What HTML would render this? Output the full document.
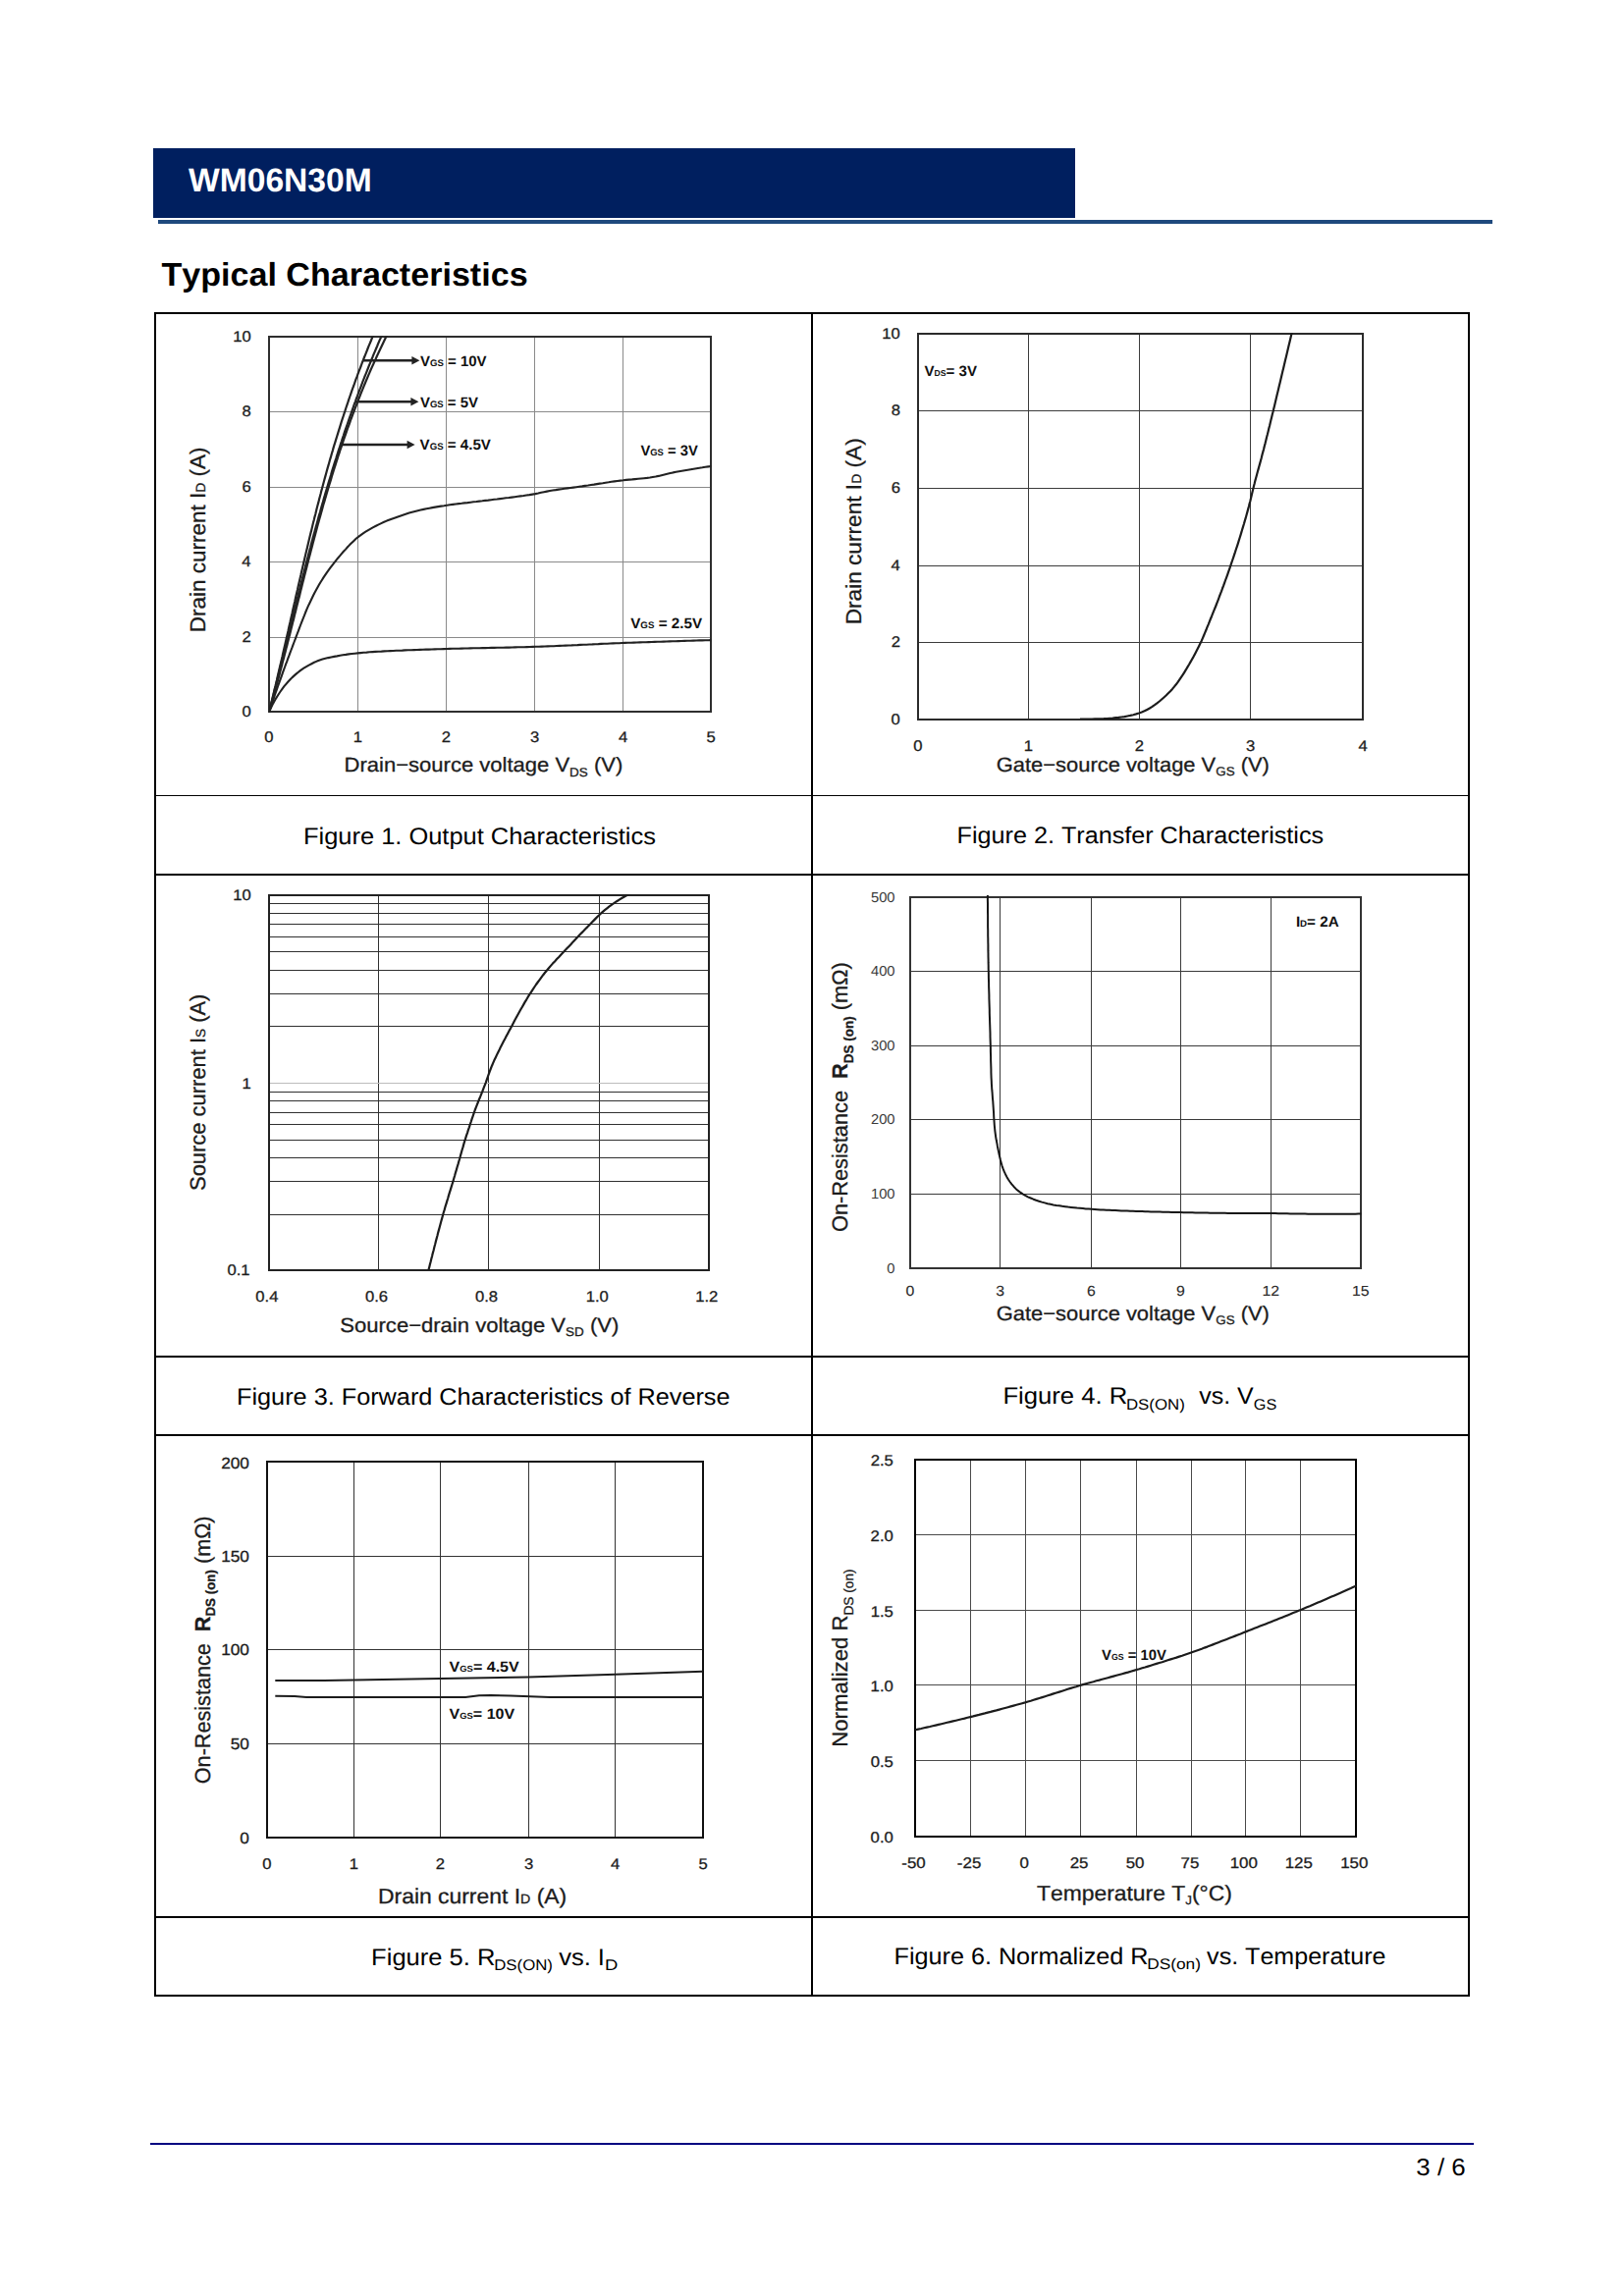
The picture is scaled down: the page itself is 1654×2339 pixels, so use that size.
<!DOCTYPE html>
<html lang="en"><head><meta charset="utf-8"><title>WM06N30M Typical Characteristics</title>
<style>html,body{margin:0;padding:0;background:#fff}svg{display:block}</style></head>
<body>
<svg width="1654" height="2339" viewBox="0 0 1654 2339" font-family='"Liberation Sans", sans-serif' style="font-kerning:none" text-rendering="geometricPrecision">
<rect width="1654" height="2339" fill="#fff"/>
<rect x="156" y="151" width="939" height="71" fill="#001f5f"/>
<rect x="161" y="224" width="1359" height="4" fill="#1f497d"/>
<text transform="translate(191.97 194.80) scale(0.9945 1)" fill="#fff"><tspan font-size="33.80" font-weight="700">WM06N30M</tspan></text>
<text transform="translate(164.42 290.50) scale(1.0235 1)" fill="#000"><tspan font-size="33.30" font-weight="700">Typical Characteristics</tspan></text>
<g fill="#000">
<rect x="157" y="318" width="1340" height="2"/>
<rect x="157" y="810" width="1340" height="1"/>
<rect x="157" y="890" width="1340" height="2"/>
<rect x="157" y="1381" width="1340" height="2"/>
<rect x="157" y="1461" width="1340" height="2"/>
<rect x="157" y="1952" width="1340" height="2"/>
<rect x="157" y="2032" width="1340" height="2"/>
<rect x="157" y="318" width="2" height="1716"/>
<rect x="826" y="318" width="2" height="1716"/>
<rect x="1495" y="318" width="2" height="1716"/>
</g>
<rect x="153" y="2183" width="1348" height="2" fill="#000080"/>
<text transform="translate(1442.31 2215.60) scale(1.0578 1)" fill="#000"><tspan font-size="24.50">3 / 6</tspan></text>
<text transform="translate(309.01 859.70) scale(1.0593 1)" fill="#000"><tspan font-size="24.00">Figure 1. Output Characteristics</tspan></text>
<text transform="translate(974.53 859.40) scale(1.0490 1)" fill="#000"><tspan font-size="24.00">Figure 2. Transfer Characteristics</tspan></text>
<text transform="translate(241.03 1430.80) scale(1.0524 1)" fill="#000"><tspan font-size="24.00">Figure 3. Forward Characteristics of Reverse</tspan></text>
<text transform="translate(1021.40 1430.30) scale(1.0681 1)" fill="#000"><tspan font-size="24.00">Figure 4. R</tspan></text>
<text transform="translate(1146.92 1435.50) scale(1.0856 1)" fill="#000"><tspan font-size="15.50">DS(ON)</tspan></text>
<text transform="translate(1221.31 1430.30) scale(1.0384 1)" fill="#000"><tspan font-size="24.00">vs. V</tspan></text>
<text transform="translate(1276.78 1435.50) scale(1.0477 1)" fill="#000"><tspan font-size="15.50">GS</tspan></text>
<text transform="translate(378.11 2001.50) scale(1.0637 1)" fill="#000"><tspan font-size="24.00">Figure 5. R</tspan></text>
<text transform="translate(503.22 2006.70) scale(1.0837 1)" fill="#000"><tspan font-size="15.50">DS(ON)</tspan></text>
<text transform="translate(569.21 2001.50) scale(1.0622 1)" fill="#000"><tspan font-size="24.00">vs. I</tspan></text>
<text transform="translate(616.09 2006.70) scale(1.1873 1)" fill="#000"><tspan font-size="15.50">D</tspan></text>
<text transform="translate(910.53 2001.20) scale(1.0494 1)" fill="#000"><tspan font-size="24.00">Figure 6. Normalized R</tspan></text>
<text transform="translate(1168.18 2006.40) scale(1.1160 1)" fill="#000"><tspan font-size="15.50">DS(on)</tspan></text>
<text transform="translate(1229.11 2001.20) scale(1.0439 1)" fill="#000"><tspan font-size="24.00">vs. Temperature</tspan></text>
<clipPath id="c1"><rect x="274.0" y="342.0" width="451.0" height="384.0"/></clipPath>
<g shape-rendering="crispEdges">
<rect x="364" y="343" width="1" height="382" fill="#8a8a8a"/>
<rect x="454" y="343" width="1" height="382" fill="#8a8a8a"/>
<rect x="544" y="343" width="1" height="382" fill="#8a8a8a"/>
<rect x="634" y="343" width="1" height="382" fill="#8a8a8a"/>
<rect x="274" y="419" width="450" height="1" fill="#8a8a8a"/>
<rect x="274" y="496" width="450" height="1" fill="#8a8a8a"/>
<rect x="274" y="572" width="450" height="1" fill="#8a8a8a"/>
<rect x="274" y="649" width="450" height="1" fill="#8a8a8a"/>
<rect x="274" y="343" width="450" height="382" fill="none" stroke="#2e2e2e" stroke-width="2"/>
</g>
<path d="M274.1 725.2L274.8 722.2L275.6 719.3L276.3 716.3L277.0 713.4L277.7 710.4L278.4 707.5L279.1 704.5L279.8 701.5L280.6 698.6L281.3 695.6L282.0 692.7L282.6 689.7L283.3 686.7L284.0 683.8L284.7 680.8L285.4 677.8L286.1 674.9L286.8 671.9L287.5 668.9L288.1 666.0L288.8 663.0L289.5 660.0L290.2 657.1L290.9 654.1L291.5 651.1L292.2 648.2L292.9 645.2L293.6 642.2L294.2 639.3L294.9 636.3L295.6 633.3L296.2 630.4L296.9 627.4L297.6 624.4L298.2 621.4L298.9 618.5L299.6 615.5L300.3 612.5L300.9 609.6L301.6 606.6L302.3 603.6L303.0 600.7L303.6 597.7L304.3 594.7L305.0 591.8L305.7 588.8L306.4 585.8L307.0 582.9L307.7 579.9L308.4 576.9L309.1 574.0L309.8 571.0L310.5 568.0L311.2 565.1L311.9 562.1L312.6 559.2L313.3 556.2L314.0 553.2L314.7 550.3L315.4 547.3L316.1 544.4L316.9 541.4L317.6 538.4L318.3 535.5L319.0 532.5L319.8 529.6L320.5 526.6L321.3 523.7L322.0 520.7L322.7 517.8L323.5 514.8L324.3 511.9L325.0 508.9L325.8 506.0L326.6 503.0L327.3 500.1L328.1 497.2L328.9 494.2L329.7 491.3L330.5 488.3L331.3 485.4L332.1 482.5L332.9 479.5L333.7 476.6L334.6 473.7L335.4 470.7L336.2 467.8L337.1 464.9L337.9 462.0L338.8 459.1L339.6 456.1L340.5 453.2L341.4 450.3L342.3 447.4L343.2 444.5L344.1 441.6L345.0 438.7L345.9 435.8L346.8 432.9L347.7 429.9L348.6 427.1L349.6 424.2L350.5 421.3L351.5 418.4L352.4 415.5L353.4 412.6L354.4 409.7L355.3 406.8L356.3 404.0L357.3 401.1L358.3 398.2L359.3 395.3L360.4 392.5L361.4 389.6L362.4 386.7L363.5 383.9L364.5 381.0L365.6 378.2L366.7 375.3L367.8 372.5L368.8 369.6L369.9 366.8L371.0 364.0L372.2 361.1L373.3 358.3L374.4 355.5L375.5 352.7L376.7 349.8L377.9 347.0L379.0 344.2L380.2 341.4L381.4 338.6L382.6 335.8L383.8 333.0" fill="none" stroke="#242424" stroke-width="2.20" stroke-linejoin="round" clip-path="url(#c1)"/>
<path d="M274.1 725.2L274.8 722.3L275.6 719.3L276.3 716.4L277.1 713.4L277.8 710.5L278.6 707.5L279.3 704.6L280.0 701.6L280.8 698.7L281.5 695.7L282.2 692.8L283.0 689.8L283.7 686.9L284.4 683.9L285.2 681.0L285.9 678.0L286.6 675.1L287.3 672.1L288.1 669.2L288.8 666.2L289.5 663.3L290.2 660.3L291.0 657.4L291.7 654.4L292.4 651.5L293.1 648.5L293.9 645.6L294.6 642.6L295.3 639.6L296.1 636.7L296.8 633.7L297.5 630.8L298.2 627.8L299.0 624.9L299.7 621.9L300.4 619.0L301.2 616.0L301.9 613.1L302.6 610.1L303.4 607.2L304.1 604.3L304.9 601.3L305.6 598.4L306.4 595.4L307.1 592.5L307.9 589.5L308.6 586.6L309.4 583.6L310.1 580.7L310.9 577.7L311.6 574.8L312.4 571.9L313.2 568.9L313.9 566.0L314.7 563.0L315.5 560.1L316.3 557.2L317.0 554.2L317.8 551.3L318.6 548.3L319.4 545.4L320.2 542.5L321.0 539.5L321.8 536.6L322.6 533.7L323.4 530.8L324.2 527.8L325.0 524.9L325.9 522.0L326.7 519.0L327.5 516.1L328.4 513.2L329.2 510.3L330.0 507.4L330.9 504.4L331.7 501.5L332.6 498.6L333.5 495.7L334.3 492.8L335.2 489.9L336.1 487.0L337.0 484.0L337.8 481.1L338.7 478.2L339.6 475.3L340.5 472.4L341.4 469.5L342.4 466.6L343.3 463.7L344.2 460.8L345.1 457.9L346.1 455.0L347.0 452.2L348.0 449.3L348.9 446.4L349.9 443.5L350.8 440.6L351.8 437.7L352.8 434.9L353.8 432.0L354.8 429.1L355.8 426.2L356.8 423.4L357.8 420.5L358.8 417.6L359.8 414.8L360.8 411.9L361.9 409.1L362.9 406.2L364.0 403.4L365.0 400.5L366.1 397.7L367.2 394.8L368.3 392.0L369.3 389.1L370.4 386.3L371.5 383.5L372.7 380.6L373.8 377.8L374.9 375.0L376.0 372.2L377.2 369.3L378.3 366.5L379.5 363.7L380.6 360.9L381.8 358.1L383.0 355.3L384.2 352.5L385.3 349.7L386.5 346.9L387.8 344.1L389.0 341.3L390.2 338.6L391.4 335.8L392.7 333.0" fill="none" stroke="#242424" stroke-width="2.20" stroke-linejoin="round" clip-path="url(#c1)"/>
<path d="M274.1 725.2L274.9 722.3L275.8 719.4L276.6 716.4L277.4 713.5L278.2 710.6L279.0 707.7L279.8 704.8L280.6 701.8L281.4 698.9L282.2 696.0L283.0 693.1L283.8 690.1L284.6 687.2L285.3 684.3L286.1 681.3L286.9 678.4L287.6 675.5L288.4 672.5L289.2 669.6L289.9 666.7L290.7 663.7L291.4 660.8L292.2 657.9L292.9 654.9L293.7 652.0L294.4 649.0L295.2 646.1L295.9 643.2L296.6 640.2L297.4 637.3L298.1 634.3L298.9 631.4L299.6 628.5L300.3 625.5L301.1 622.6L301.8 619.6L302.5 616.7L303.3 613.8L304.0 610.8L304.8 607.9L305.5 604.9L306.2 602.0L307.0 599.0L307.7 596.1L308.4 593.2L309.2 590.2L309.9 587.3L310.7 584.3L311.4 581.4L312.2 578.5L312.9 575.5L313.7 572.6L314.4 569.7L315.2 566.7L316.0 563.8L316.7 560.9L317.5 557.9L318.3 555.0L319.0 552.1L319.8 549.1L320.6 546.2L321.4 543.3L322.2 540.3L322.9 537.4L323.7 534.5L324.5 531.6L325.3 528.6L326.2 525.7L327.0 522.8L327.8 519.9L328.6 517.0L329.4 514.0L330.3 511.1L331.1 508.2L332.0 505.3L332.8 502.4L333.7 499.5L334.5 496.6L335.4 493.7L336.3 490.8L337.2 487.9L338.0 485.0L338.9 482.1L339.8 479.2L340.7 476.3L341.7 473.4L342.6 470.5L343.5 467.6L344.4 464.7L345.4 461.9L346.3 459.0L347.3 456.1L348.3 453.2L349.2 450.4L350.2 447.5L351.2 444.6L352.2 441.8L353.2 438.9L354.2 436.0L355.3 433.2L356.3 430.3L357.3 427.5L358.4 424.6L359.4 421.8L360.5 419.0L361.6 416.1L362.7 413.3L363.8 410.5L364.9 407.7L366.0 404.8L367.1 402.0L368.2 399.2L369.4 396.4L370.5 393.6L371.7 390.8L372.8 388.0L374.0 385.2L375.2 382.4L376.4 379.6L377.6 376.8L378.8 374.1L380.1 371.3L381.3 368.5L382.6 365.8L383.8 363.0L385.1 360.3L386.4 357.5L387.7 354.8L389.0 352.0L390.3 349.3L391.6 346.6L392.9 343.8L394.3 341.1L395.6 338.4L397.0 335.7L398.4 333.0" fill="none" stroke="#242424" stroke-width="2.20" stroke-linejoin="round" clip-path="url(#c1)"/>
<path d="M274.1 725.2L275.1 722.3L276.0 719.5L277.0 716.6L278.0 713.7L279.0 710.9L279.9 708.0L280.9 705.2L281.9 702.3L282.9 699.5L283.9 696.6L284.9 693.8L286.0 690.9L287.0 688.1L288.0 685.2L289.0 682.4L290.1 679.5L291.1 676.7L292.2 673.9L293.2 671.0L294.3 668.2L295.3 665.4L296.4 662.5L297.5 659.7L298.5 656.9L299.6 654.0L300.7 651.2L301.7 648.4L302.8 645.5L303.9 642.7L304.9 639.9L306.0 637.0L307.1 634.2L308.2 631.4L309.3 628.6L310.4 625.8L311.5 623.0L312.7 620.2L313.9 617.4L315.2 614.7L316.5 612.0L317.8 609.2L319.1 606.5L320.5 603.8L322.0 601.1L323.4 598.5L324.9 595.8L326.4 593.2L328.0 590.7L329.6 588.1L331.3 585.6L333.0 583.1L334.8 580.7L336.6 578.2L338.4 575.8L340.3 573.4L342.1 571.1L344.0 568.7L346.0 566.4L347.9 564.1L349.9 561.8L352.0 559.6L354.0 557.3L356.1 555.1L358.2 553.0L360.4 550.9L362.6 548.8L365.0 546.9L367.4 545.1L369.8 543.4L372.4 541.7L375.0 540.1L377.6 538.6L380.2 537.1L382.9 535.7L385.6 534.4L388.3 533.1L391.1 531.8L393.9 530.6L396.7 529.5L399.5 528.4L402.4 527.4L405.2 526.4L408.1 525.4L410.9 524.4L413.8 523.5L416.7 522.6L419.6 521.8L422.6 521.0L425.5 520.2L428.4 519.5L431.4 518.9L434.3 518.3L437.3 517.7L440.3 517.1L443.2 516.6L446.2 516.1L449.2 515.6L452.2 515.2L455.2 514.7L458.2 514.3L461.2 513.9L464.2 513.5L467.2 513.1L470.2 512.8L473.2 512.4L476.2 512.1L479.2 511.7L482.2 511.3L485.2 511.0L488.2 510.6L491.2 510.3L494.2 509.9L497.2 509.6L500.2 509.2L503.2 508.8L506.2 508.5L509.2 508.1L512.2 507.7L515.2 507.3L518.2 507.0L521.2 506.6L524.2 506.2L527.2 505.8L530.2 505.4L533.2 505.0L536.2 504.5L539.2 504.1L542.2 503.6L545.2 503.1L548.1 502.5L551.1 501.8L554.0 501.2L557.0 500.6L560.0 500.0L563.0 499.5L565.9 499.1L568.9 498.6L571.9 498.2L574.9 497.8L577.9 497.4L580.9 497.0L583.9 496.6L586.9 496.2L589.9 495.8L592.9 495.4L595.9 494.9L598.9 494.5L601.9 494.0L604.9 493.6L607.9 493.1L610.8 492.6L613.8 492.2L616.8 491.7L619.8 491.3L622.8 490.8L625.8 490.4L628.8 490.0L631.8 489.6L634.8 489.3L637.8 488.9L640.8 488.6L643.8 488.4L646.8 488.1L649.9 487.8L652.9 487.5L655.9 487.2L658.9 486.9L661.9 486.5L664.8 486.0L667.8 485.5L670.8 484.9L673.7 484.2L676.7 483.5L679.6 482.8L682.6 482.1L685.5 481.4L688.5 480.8L691.5 480.2L694.4 479.7L697.4 479.2L700.4 478.7L703.4 478.2L706.3 477.7L709.3 477.2L712.3 476.7L715.3 476.3L718.3 475.8L721.3 475.4L724.3 475.0" fill="none" stroke="#222" stroke-width="2.10" stroke-linejoin="round" clip-path="url(#c1)"/>
<path d="M274.1 725.2L275.4 722.4L276.7 719.6L278.0 716.9L279.5 714.2L281.0 711.6L282.6 709.0L284.2 706.5L285.9 704.0L287.6 701.6L289.4 699.2L291.4 696.8L293.4 694.5L295.5 692.3L297.6 690.1L299.8 688.1L302.1 686.1L304.5 684.2L306.9 682.4L309.4 680.7L312.0 679.1L314.6 677.6L317.3 676.2L320.0 674.8L322.8 673.6L325.6 672.5L328.5 671.6L331.4 670.8L334.3 670.1L337.3 669.5L340.3 668.9L343.3 668.4L346.3 667.8L349.2 667.3L352.2 666.9L355.2 666.4L358.2 666.0L361.3 665.7L364.3 665.4L367.3 665.1L370.3 664.8L373.3 664.6L376.3 664.3L379.3 664.1L382.4 663.9L385.4 663.7L388.4 663.6L391.4 663.4L394.5 663.3L397.5 663.1L400.5 663.0L403.5 662.8L406.6 662.7L409.6 662.6L412.6 662.4L415.6 662.3L418.7 662.2L421.7 662.1L424.7 662.0L427.7 661.9L430.8 661.8L433.8 661.6L436.8 661.6L439.8 661.5L442.9 661.4L445.9 661.3L448.9 661.2L452.0 661.1L455.0 661.0L458.0 660.9L461.0 660.8L464.1 660.7L467.1 660.7L470.1 660.6L473.1 660.5L476.2 660.5L479.2 660.4L482.2 660.3L485.2 660.3L488.3 660.2L491.3 660.1L494.3 660.1L497.4 660.0L500.4 659.9L503.4 659.9L506.4 659.8L509.5 659.8L512.5 659.7L515.5 659.6L518.5 659.6L521.6 659.5L524.6 659.4L527.6 659.3L530.7 659.3L533.7 659.2L536.7 659.1L539.7 659.0L542.8 658.9L545.8 658.8L548.8 658.7L551.8 658.6L554.9 658.5L557.9 658.4L560.9 658.3L563.9 658.2L567.0 658.0L570.0 657.9L573.0 657.8L576.0 657.6L579.1 657.5L582.1 657.4L585.1 657.2L588.1 657.1L591.2 656.9L594.2 656.8L597.2 656.7L600.2 656.5L603.3 656.4L606.3 656.2L609.3 656.1L612.3 655.9L615.4 655.8L618.4 655.7L621.4 655.5L624.4 655.4L627.5 655.3L630.5 655.2L633.5 655.0L636.5 654.9L639.6 654.8L642.6 654.7L645.6 654.6L648.6 654.5L651.7 654.4L654.7 654.3L657.7 654.2L660.7 654.1L663.8 654.0L666.8 653.9L669.8 653.8L672.9 653.7L675.9 653.6L678.9 653.5L681.9 653.4L685.0 653.3L688.0 653.2L691.0 653.1L694.0 653.0L697.1 652.9L700.1 652.8L703.1 652.7L706.1 652.6L709.2 652.5L712.2 652.4L715.2 652.4L718.2 652.3L721.3 652.2L724.3 652.1" fill="none" stroke="#222" stroke-width="2.10" stroke-linejoin="round" clip-path="url(#c1)"/>
<path d="M370.10 367.30H420.40" stroke="#222" stroke-width="2.60" fill="none"/>
<path d="M427.40 367.30L419.40 363.10L419.40 371.50Z" fill="#222"/>
<path d="M362.00 409.20H419.40" stroke="#222" stroke-width="2.60" fill="none"/>
<path d="M426.40 409.20L418.40 405.00L418.40 413.40Z" fill="#222"/>
<path d="M347.80 453.00H415.60" stroke="#222" stroke-width="2.60" fill="none"/>
<path d="M422.60 453.00L414.60 448.80L414.60 457.20Z" fill="#222"/>
<text transform="translate(428.00 373.40) scale(0.9992 1)" fill="#111"><tspan font-size="15.00" font-weight="700">V</tspan><tspan font-size="9.60" font-weight="700">GS</tspan><tspan font-size="15.00" font-weight="700"> = 10V</tspan></text>
<text transform="translate(427.90 415.10) scale(0.9964 1)" fill="#111"><tspan font-size="15.00" font-weight="700">V</tspan><tspan font-size="9.60" font-weight="700">GS</tspan><tspan font-size="15.00" font-weight="700"> = 5V</tspan></text>
<text transform="translate(427.60 458.00) scale(1.0067 1)" fill="#111"><tspan font-size="15.00" font-weight="700">V</tspan><tspan font-size="9.60" font-weight="700">GS</tspan><tspan font-size="15.00" font-weight="700"> = 4.5V</tspan></text>
<text transform="translate(652.40 463.90) scale(0.9829 1)" fill="#111"><tspan font-size="15.00" font-weight="700">V</tspan><tspan font-size="9.60" font-weight="700">GS</tspan><tspan font-size="15.00" font-weight="700"> = 3V</tspan></text>
<text transform="translate(642.20 640.00) scale(1.0137 1)" fill="#111"><tspan font-size="15.00" font-weight="700">V</tspan><tspan font-size="9.60" font-weight="700">GS</tspan><tspan font-size="15.00" font-weight="700"> = 2.5V</tspan></text>
<text transform="translate(237.14 347.81) scale(1.0803 1)" fill="#1c1c1c" stroke="#1c1c1c" stroke-width="0.30"><tspan font-size="15.40">10</tspan></text>
<text transform="translate(246.47 424.31) scale(1.0803 1)" fill="#1c1c1c" stroke="#1c1c1c" stroke-width="0.30"><tspan font-size="15.40">8</tspan></text>
<text transform="translate(246.48 501.31) scale(1.0803 1)" fill="#1c1c1c" stroke="#1c1c1c" stroke-width="0.30"><tspan font-size="15.40">6</tspan></text>
<text transform="translate(246.23 577.31) scale(1.0803 1)" fill="#1c1c1c" stroke="#1c1c1c" stroke-width="0.30"><tspan font-size="15.40">4</tspan></text>
<text transform="translate(246.58 654.31) scale(1.0803 1)" fill="#1c1c1c" stroke="#1c1c1c" stroke-width="0.30"><tspan font-size="15.40">2</tspan></text>
<text transform="translate(246.40 729.81) scale(1.0803 1)" fill="#1c1c1c" stroke="#1c1c1c" stroke-width="0.30"><tspan font-size="15.40">0</tspan></text>
<text transform="translate(269.37 755.60) scale(1.0803 1)" fill="#1c1c1c" stroke="#1c1c1c" stroke-width="0.30"><tspan font-size="15.40">0</tspan></text>
<text transform="translate(359.65 755.60) scale(1.0803 1)" fill="#1c1c1c" stroke="#1c1c1c" stroke-width="0.30"><tspan font-size="15.40">1</tspan></text>
<text transform="translate(449.87 755.60) scale(1.0803 1)" fill="#1c1c1c" stroke="#1c1c1c" stroke-width="0.30"><tspan font-size="15.40">2</tspan></text>
<text transform="translate(539.92 755.60) scale(1.0803 1)" fill="#1c1c1c" stroke="#1c1c1c" stroke-width="0.30"><tspan font-size="15.40">3</tspan></text>
<text transform="translate(629.93 755.60) scale(1.0803 1)" fill="#1c1c1c" stroke="#1c1c1c" stroke-width="0.30"><tspan font-size="15.40">4</tspan></text>
<text transform="translate(719.39 755.60) scale(1.0803 1)" fill="#1c1c1c" stroke="#1c1c1c" stroke-width="0.30"><tspan font-size="15.40">5</tspan></text>
<text transform="translate(350.59 786.40) scale(1.0693 1)" fill="#1c1c1c" stroke="#1c1c1c" stroke-width="0.30"><tspan font-size="20.60">Drain−source voltage V</tspan><tspan font-size="12.60" dy="4.20">DS</tspan><tspan font-size="20.60" dy="-4.20"> (V)</tspan></text>
<text transform="translate(208.60 644.25) rotate(-90) scale(1.0228 1)" fill="#1c1c1c" stroke="#1c1c1c" stroke-width="0.30"><tspan font-size="22.00">Drain current I</tspan><tspan font-size="13.60">D</tspan><tspan font-size="22.00"> (A)</tspan></text>
<clipPath id="c2"><rect x="935.0" y="339.0" width="454.0" height="394.0"/></clipPath>
<g shape-rendering="crispEdges">
<rect x="1047" y="340" width="1" height="393" fill="#3c3c3c"/>
<rect x="1160" y="340" width="1" height="393" fill="#3c3c3c"/>
<rect x="1273" y="340" width="1" height="393" fill="#3c3c3c"/>
<rect x="935" y="418" width="453" height="1" fill="#3c3c3c"/>
<rect x="935" y="497" width="453" height="1" fill="#3c3c3c"/>
<rect x="935" y="576" width="453" height="1" fill="#3c3c3c"/>
<rect x="935" y="654" width="453" height="1" fill="#3c3c3c"/>
<rect x="935" y="340" width="453" height="393" fill="none" stroke="#2b2b2b" stroke-width="2"/>
</g>
<path d="M1100.0 732.6L1103.0 732.6L1106.1 732.6L1109.1 732.5L1112.1 732.5L1115.1 732.4L1118.2 732.4L1121.2 732.3L1124.2 732.2L1127.2 732.0L1130.2 731.8L1133.3 731.6L1136.3 731.2L1139.3 730.9L1142.3 730.5L1145.3 730.1L1148.3 729.5L1151.2 728.9L1154.2 728.2L1157.1 727.4L1160.0 726.5L1162.8 725.5L1165.6 724.3L1168.3 722.9L1170.9 721.5L1173.5 719.9L1176.0 718.2L1178.4 716.4L1180.8 714.5L1183.1 712.5L1185.4 710.5L1187.6 708.5L1189.8 706.3L1191.9 704.2L1194.0 701.9L1195.9 699.6L1197.8 697.3L1199.6 694.9L1201.3 692.4L1203.0 689.9L1204.7 687.4L1206.3 684.8L1207.9 682.2L1209.4 679.6L1211.0 677.0L1212.5 674.4L1214.0 671.7L1215.5 669.1L1216.9 666.4L1218.3 663.8L1219.7 661.1L1221.1 658.3L1222.4 655.6L1223.7 652.9L1224.9 650.1L1226.1 647.3L1227.2 644.6L1228.4 641.8L1229.5 638.9L1230.7 636.1L1231.8 633.3L1232.9 630.5L1234.1 627.7L1235.2 624.9L1236.3 622.1L1237.5 619.3L1238.6 616.5L1239.7 613.7L1240.8 610.8L1241.8 608.0L1242.9 605.2L1244.0 602.4L1245.0 599.5L1246.1 596.7L1247.1 593.8L1248.1 591.0L1249.2 588.1L1250.2 585.3L1251.2 582.4L1252.2 579.6L1253.2 576.7L1254.1 573.9L1255.1 571.0L1256.1 568.1L1257.0 565.3L1258.0 562.4L1258.9 559.5L1259.9 556.6L1260.8 553.8L1261.7 550.9L1262.6 548.0L1263.5 545.1L1264.4 542.2L1265.2 539.3L1266.1 536.4L1267.0 533.5L1267.8 530.6L1268.7 527.7L1269.5 524.8L1270.3 521.9L1271.1 518.9L1271.9 516.0L1272.6 513.1L1273.4 510.2L1274.1 507.2L1274.8 504.3L1275.5 501.3L1276.2 498.4L1276.9 495.5L1277.7 492.5L1278.4 489.6L1279.2 486.7L1280.0 483.8L1280.8 480.8L1281.6 477.9L1282.4 475.0L1283.2 472.1L1284.0 469.2L1284.8 466.2L1285.5 463.3L1286.3 460.4L1287.1 457.5L1287.8 454.5L1288.6 451.6L1289.3 448.7L1290.0 445.7L1290.8 442.8L1291.5 439.9L1292.2 436.9L1293.0 434.0L1293.7 431.0L1294.4 428.1L1295.1 425.2L1295.8 422.2L1296.6 419.3L1297.3 416.3L1298.0 413.4L1298.7 410.5L1299.4 407.5L1300.1 404.6L1300.8 401.6L1301.5 398.7L1302.2 395.8L1302.9 392.8L1303.6 389.9L1304.3 386.9L1305.0 384.0L1305.7 381.0L1306.4 378.1L1307.1 375.2L1307.8 372.2L1308.5 369.3L1309.2 366.3L1309.9 363.4L1310.6 360.4L1311.3 357.5L1312.0 354.5L1312.7 351.6L1313.4 348.7L1314.1 345.7L1314.8 342.8L1315.5 339.8L1316.2 336.9L1316.9 333.9L1317.6 331.0" fill="none" stroke="#1c1c1c" stroke-width="2.20" stroke-linejoin="round" clip-path="url(#c2)"/>
<text transform="translate(941.50 383.30) scale(1.0034 1)" fill="#111"><tspan font-size="15.00" font-weight="700">V</tspan><tspan font-size="8.60" font-weight="700">DS</tspan><tspan font-size="15.00" font-weight="700">= 3V</tspan></text>
<text transform="translate(898.34 344.61) scale(1.0803 1)" fill="#1c1c1c" stroke="#1c1c1c" stroke-width="0.30"><tspan font-size="15.40">10</tspan></text>
<text transform="translate(907.67 423.11) scale(1.0803 1)" fill="#1c1c1c" stroke="#1c1c1c" stroke-width="0.30"><tspan font-size="15.40">8</tspan></text>
<text transform="translate(907.68 502.11) scale(1.0803 1)" fill="#1c1c1c" stroke="#1c1c1c" stroke-width="0.30"><tspan font-size="15.40">6</tspan></text>
<text transform="translate(907.43 581.11) scale(1.0803 1)" fill="#1c1c1c" stroke="#1c1c1c" stroke-width="0.30"><tspan font-size="15.40">4</tspan></text>
<text transform="translate(907.78 659.11) scale(1.0803 1)" fill="#1c1c1c" stroke="#1c1c1c" stroke-width="0.30"><tspan font-size="15.40">2</tspan></text>
<text transform="translate(907.60 737.61) scale(1.0803 1)" fill="#1c1c1c" stroke="#1c1c1c" stroke-width="0.30"><tspan font-size="15.40">0</tspan></text>
<text transform="translate(930.37 764.80) scale(1.0803 1)" fill="#1c1c1c" stroke="#1c1c1c" stroke-width="0.30"><tspan font-size="15.40">0</tspan></text>
<text transform="translate(1042.65 764.80) scale(1.0803 1)" fill="#1c1c1c" stroke="#1c1c1c" stroke-width="0.30"><tspan font-size="15.40">1</tspan></text>
<text transform="translate(1155.87 764.80) scale(1.0803 1)" fill="#1c1c1c" stroke="#1c1c1c" stroke-width="0.30"><tspan font-size="15.40">2</tspan></text>
<text transform="translate(1268.92 764.80) scale(1.0803 1)" fill="#1c1c1c" stroke="#1c1c1c" stroke-width="0.30"><tspan font-size="15.40">3</tspan></text>
<text transform="translate(1383.43 764.80) scale(1.0803 1)" fill="#1c1c1c" stroke="#1c1c1c" stroke-width="0.30"><tspan font-size="15.40">4</tspan></text>
<text transform="translate(1014.80 785.60) scale(1.0636 1)" fill="#1c1c1c" stroke="#1c1c1c" stroke-width="0.30"><tspan font-size="20.60">Gate−source voltage V</tspan><tspan font-size="12.60" dy="4.20">GS</tspan><tspan font-size="20.60" dy="-4.20"> (V)</tspan></text>
<text transform="translate(877.20 636.36) rotate(-90) scale(1.0294 1)" fill="#1c1c1c" stroke="#1c1c1c" stroke-width="0.30"><tspan font-size="22.00">Drain current I</tspan><tspan font-size="13.60">D</tspan><tspan font-size="22.00"> (A)</tspan></text>
<clipPath id="c3"><rect x="274.0" y="911.0" width="449.0" height="383.0"/></clipPath>
<g shape-rendering="crispEdges">
<rect x="385" y="912" width="1" height="382" fill="#303030"/>
<rect x="497" y="912" width="1" height="382" fill="#303030"/>
<rect x="610" y="912" width="1" height="382" fill="#303030"/>
<rect x="274" y="1045" width="448" height="1" fill="#303030"/>
<rect x="274" y="1012" width="448" height="1" fill="#303030"/>
<rect x="274" y="988" width="448" height="1" fill="#303030"/>
<rect x="274" y="969" width="448" height="1" fill="#303030"/>
<rect x="274" y="954" width="448" height="1" fill="#303030"/>
<rect x="274" y="941" width="448" height="1" fill="#303030"/>
<rect x="274" y="930" width="448" height="1" fill="#303030"/>
<rect x="274" y="920" width="448" height="1" fill="#303030"/>
<rect x="274" y="1103" width="448" height="1" fill="#bdbdbd"/>
<rect x="274" y="1237" width="448" height="1" fill="#303030"/>
<rect x="274" y="1203" width="448" height="1" fill="#303030"/>
<rect x="274" y="1179" width="448" height="1" fill="#303030"/>
<rect x="274" y="1161" width="448" height="1" fill="#303030"/>
<rect x="274" y="1145" width="448" height="1" fill="#303030"/>
<rect x="274" y="1133" width="448" height="1" fill="#303030"/>
<rect x="274" y="1121" width="448" height="1" fill="#303030"/>
<rect x="274" y="1112" width="448" height="1" fill="#303030"/>
<rect x="274" y="912" width="448" height="382" fill="none" stroke="#222" stroke-width="2"/>
</g>
<path d="M432.5 1309.0L433.3 1306.1L434.0 1303.1L434.8 1300.2L435.6 1297.2L436.3 1294.3L437.1 1291.4L437.8 1288.4L438.6 1285.5L439.3 1282.5L440.1 1279.6L440.8 1276.6L441.6 1273.7L442.3 1270.8L443.1 1267.8L443.8 1264.9L444.6 1261.9L445.4 1259.0L446.1 1256.1L446.9 1253.1L447.7 1250.2L448.5 1247.2L449.3 1244.3L450.1 1241.4L450.9 1238.5L451.7 1235.5L452.6 1232.6L453.4 1229.7L454.3 1226.8L455.2 1223.9L456.1 1221.0L456.9 1218.1L457.8 1215.2L458.7 1212.3L459.6 1209.4L460.5 1206.5L461.4 1203.6L462.2 1200.7L463.1 1197.7L463.9 1194.8L464.8 1191.9L465.6 1189.0L466.5 1186.1L467.3 1183.2L468.2 1180.2L469.0 1177.3L469.8 1174.4L470.6 1171.5L471.5 1168.6L472.3 1165.6L473.2 1162.7L474.1 1159.8L475.0 1156.9L476.0 1154.1L476.9 1151.2L477.9 1148.3L478.8 1145.4L479.8 1142.5L480.7 1139.6L481.7 1136.8L482.7 1133.9L483.7 1131.0L484.8 1128.2L485.9 1125.4L487.0 1122.5L488.1 1119.7L489.3 1116.9L490.4 1114.1L491.5 1111.3L492.6 1108.4L493.7 1105.6L494.8 1102.8L495.8 1099.9L496.8 1097.0L497.8 1094.2L498.8 1091.3L499.9 1088.5L501.0 1085.7L502.2 1082.9L503.4 1080.1L504.7 1077.4L506.0 1074.6L507.3 1071.9L508.7 1069.2L510.0 1066.4L511.4 1063.7L512.8 1061.0L514.3 1058.3L515.7 1055.6L517.1 1052.9L518.5 1050.3L520.0 1047.6L521.4 1044.9L522.8 1042.2L524.2 1039.5L525.7 1036.8L527.1 1034.2L528.6 1031.5L530.1 1028.8L531.6 1026.2L533.1 1023.6L534.6 1020.9L536.2 1018.3L537.7 1015.7L539.3 1013.2L541.0 1010.6L542.6 1008.1L544.3 1005.5L546.0 1003.0L547.8 1000.5L549.6 998.1L551.4 995.6L553.2 993.2L555.1 990.8L557.0 988.5L558.9 986.2L560.9 983.9L562.9 981.6L565.0 979.4L567.1 977.1L569.2 974.9L571.2 972.7L573.3 970.5L575.4 968.3L577.5 966.1L579.6 963.9L581.7 961.7L583.7 959.4L585.8 957.2L587.9 955.0L590.0 952.8L592.1 950.6L594.2 948.5L596.3 946.3L598.5 944.1L600.6 941.9L602.7 939.7L604.8 937.6L607.0 935.4L609.1 933.3L611.3 931.2L613.6 929.2L615.9 927.2L618.2 925.3L620.6 923.4L623.1 921.6L625.6 919.9L628.1 918.2L630.6 916.6L633.2 915.0L635.9 913.5L638.5 912.0L641.2 910.5L643.9 909.1L646.6 907.7L649.3 906.3L652.0 905.0" fill="none" stroke="#1c1c1c" stroke-width="2.20" stroke-linejoin="round" clip-path="url(#c3)"/>
<text transform="translate(237.14 917.11) scale(1.0803 1)" fill="#1c1c1c" stroke="#1c1c1c" stroke-width="0.30"><tspan font-size="15.40">10</tspan></text>
<text transform="translate(246.56 1108.51) scale(1.0803 1)" fill="#1c1c1c" stroke="#1c1c1c" stroke-width="0.30"><tspan font-size="15.40">1</tspan></text>
<text transform="translate(231.49 1298.51) scale(1.0803 1)" fill="#1c1c1c" stroke="#1c1c1c" stroke-width="0.30"><tspan font-size="15.40">0.1</tspan></text>
<text transform="translate(260.36 1325.90) scale(1.0803 1)" fill="#1c1c1c" stroke="#1c1c1c" stroke-width="0.30"><tspan font-size="15.40">0.4</tspan></text>
<text transform="translate(371.98 1325.90) scale(1.0803 1)" fill="#1c1c1c" stroke="#1c1c1c" stroke-width="0.30"><tspan font-size="15.40">0.6</tspan></text>
<text transform="translate(483.97 1325.90) scale(1.0803 1)" fill="#1c1c1c" stroke="#1c1c1c" stroke-width="0.30"><tspan font-size="15.40">0.8</tspan></text>
<text transform="translate(596.63 1325.90) scale(1.0803 1)" fill="#1c1c1c" stroke="#1c1c1c" stroke-width="0.30"><tspan font-size="15.40">1.0</tspan></text>
<text transform="translate(708.22 1325.90) scale(1.0803 1)" fill="#1c1c1c" stroke="#1c1c1c" stroke-width="0.30"><tspan font-size="15.40">1.2</tspan></text>
<text transform="translate(346.30 1356.60) scale(1.0703 1)" fill="#1c1c1c" stroke="#1c1c1c" stroke-width="0.30"><tspan font-size="20.60">Source−drain voltage V</tspan><tspan font-size="12.60" dy="4.20">SD</tspan><tspan font-size="20.60" dy="-4.20"> (V)</tspan></text>
<text transform="translate(208.60 1213.00) rotate(-90) scale(0.9967 1)" fill="#1c1c1c" stroke="#1c1c1c" stroke-width="0.30"><tspan font-size="22.00">Source current I</tspan><tspan font-size="13.60">S</tspan><tspan font-size="22.00"> (A)</tspan></text>
<clipPath id="c4"><rect x="927.0" y="912.0" width="460.0" height="380.0"/></clipPath>
<g shape-rendering="crispEdges">
<rect x="1018" y="914" width="1" height="378" fill="#3a3a3a"/>
<rect x="1111" y="914" width="1" height="378" fill="#3a3a3a"/>
<rect x="1202" y="914" width="1" height="378" fill="#3a3a3a"/>
<rect x="1294" y="914" width="1" height="378" fill="#3a3a3a"/>
<rect x="927" y="989" width="459" height="1" fill="#3a3a3a"/>
<rect x="927" y="1065" width="459" height="1" fill="#3a3a3a"/>
<rect x="927" y="1140" width="459" height="1" fill="#3a3a3a"/>
<rect x="927" y="1216" width="459" height="1" fill="#3a3a3a"/>
<rect x="927" y="914" width="459" height="378" fill="none" stroke="#333" stroke-width="2"/>
</g>
<path d="M1005.8 905.0L1005.8 908.0L1005.9 911.0L1005.9 914.1L1005.9 917.1L1006.0 920.1L1006.0 923.1L1006.0 926.1L1006.0 929.1L1006.1 932.2L1006.1 935.2L1006.1 938.2L1006.1 941.2L1006.1 944.2L1006.2 947.3L1006.2 950.3L1006.2 953.3L1006.3 956.3L1006.3 959.3L1006.4 962.3L1006.4 965.4L1006.4 968.4L1006.5 971.4L1006.5 974.4L1006.6 977.4L1006.6 980.4L1006.7 983.5L1006.7 986.5L1006.8 989.5L1006.9 992.5L1006.9 995.5L1007.0 998.6L1007.1 1001.6L1007.1 1004.6L1007.2 1007.6L1007.3 1010.6L1007.4 1013.6L1007.4 1016.7L1007.5 1019.7L1007.6 1022.7L1007.7 1025.7L1007.8 1028.7L1007.8 1031.7L1007.9 1034.8L1008.0 1037.8L1008.1 1040.8L1008.2 1043.8L1008.3 1046.8L1008.4 1049.8L1008.5 1052.9L1008.5 1055.9L1008.6 1058.9L1008.7 1061.9L1008.8 1064.9L1008.9 1067.9L1008.9 1071.0L1009.0 1074.0L1009.1 1077.0L1009.1 1080.0L1009.2 1083.0L1009.3 1086.1L1009.4 1089.1L1009.4 1092.1L1009.5 1095.1L1009.6 1098.1L1009.8 1101.1L1009.9 1104.1L1010.1 1107.2L1010.3 1110.2L1010.6 1113.2L1010.8 1116.2L1011.0 1119.2L1011.3 1122.2L1011.5 1125.2L1011.7 1128.2L1011.9 1131.2L1012.1 1134.3L1012.2 1137.3L1012.4 1140.3L1012.6 1143.3L1012.8 1146.3L1013.1 1149.3L1013.4 1152.3L1013.8 1155.3L1014.2 1158.3L1014.7 1161.3L1015.3 1164.2L1015.8 1167.2L1016.4 1170.2L1017.0 1173.1L1017.6 1176.1L1018.3 1179.1L1019.0 1182.0L1019.8 1184.9L1020.6 1187.8L1021.6 1190.7L1022.7 1193.4L1024.0 1196.2L1025.4 1198.9L1026.9 1201.5L1028.6 1204.0L1030.4 1206.4L1032.4 1208.7L1034.5 1210.9L1036.8 1212.9L1039.1 1214.7L1041.6 1216.4L1044.2 1217.9L1046.9 1219.3L1049.7 1220.5L1052.5 1221.7L1055.3 1222.8L1058.2 1223.7L1061.1 1224.6L1064.0 1225.4L1066.9 1226.2L1069.9 1226.8L1072.8 1227.4L1075.8 1227.9L1078.8 1228.3L1081.8 1228.8L1084.8 1229.2L1087.7 1229.6L1090.7 1229.9L1093.8 1230.2L1096.8 1230.6L1099.8 1230.8L1102.8 1231.1L1105.8 1231.4L1108.8 1231.6L1111.8 1231.8L1114.8 1232.0L1117.8 1232.2L1120.9 1232.4L1123.9 1232.5L1126.9 1232.7L1129.9 1232.8L1132.9 1233.0L1135.9 1233.1L1139.0 1233.2L1142.0 1233.4L1145.0 1233.5L1148.0 1233.6L1151.0 1233.7L1154.0 1233.8L1157.1 1233.9L1160.1 1234.0L1163.1 1234.1L1166.1 1234.2L1169.1 1234.3L1172.1 1234.4L1175.2 1234.4L1178.2 1234.5L1181.2 1234.6L1184.2 1234.7L1187.2 1234.8L1190.2 1234.8L1193.3 1234.9L1196.3 1235.0L1199.3 1235.0L1202.3 1235.1L1205.3 1235.2L1208.3 1235.2L1211.4 1235.3L1214.4 1235.3L1217.4 1235.4L1220.4 1235.5L1223.4 1235.5L1226.4 1235.6L1229.5 1235.6L1232.5 1235.7L1235.5 1235.7L1238.5 1235.8L1241.5 1235.8L1244.6 1235.8L1247.6 1235.8L1250.6 1235.9L1253.6 1235.9L1256.6 1235.9L1259.6 1235.9L1262.7 1235.9L1265.7 1235.9L1268.7 1236.0L1271.7 1236.0L1274.7 1236.0L1277.8 1236.0L1280.8 1236.0L1283.8 1236.0L1286.8 1236.0L1289.8 1236.1L1292.8 1236.1L1295.9 1236.1L1298.9 1236.1L1301.9 1236.2L1304.9 1236.2L1307.9 1236.3L1311.0 1236.3L1314.0 1236.4L1317.0 1236.4L1320.0 1236.5L1323.0 1236.5L1326.0 1236.6L1329.1 1236.6L1332.1 1236.7L1335.1 1236.7L1338.1 1236.7L1341.1 1236.8L1344.1 1236.8L1347.2 1236.8L1350.2 1236.8L1353.2 1236.8L1356.2 1236.8L1359.2 1236.8L1362.3 1236.8L1365.3 1236.8L1368.3 1236.8L1371.3 1236.7L1374.3 1236.7L1377.3 1236.7L1380.4 1236.7L1383.4 1236.6L1386.4 1236.6" fill="none" stroke="#161616" stroke-width="2.00" stroke-linejoin="round" clip-path="url(#c4)"/>
<text transform="translate(1319.88 944.30) scale(1.0119 1)" fill="#111"><tspan font-size="15.00" font-weight="700">I</tspan><tspan font-size="9.60" font-weight="700">D</tspan><tspan font-size="15.00" font-weight="700">= 2A</tspan></text>
<text transform="translate(886.97 918.66) scale(1.0242 1)" fill="#3a3a3a"><tspan font-size="14.40">500</tspan></text>
<text transform="translate(886.97 994.16) scale(1.0242 1)" fill="#3a3a3a"><tspan font-size="14.40">400</tspan></text>
<text transform="translate(886.97 1070.16) scale(1.0242 1)" fill="#3a3a3a"><tspan font-size="14.40">300</tspan></text>
<text transform="translate(886.97 1145.16) scale(1.0242 1)" fill="#3a3a3a"><tspan font-size="14.40">200</tspan></text>
<text transform="translate(886.97 1221.16) scale(1.0242 1)" fill="#3a3a3a"><tspan font-size="14.40">100</tspan></text>
<text transform="translate(903.37 1296.66) scale(1.0242 1)" fill="#3a3a3a"><tspan font-size="14.40">0</tspan></text>
<text transform="translate(922.60 1320.00) scale(1.0841 1)" fill="#2a2a2a" stroke="#2a2a2a" stroke-width="0.10"><tspan font-size="14.60">0</tspan></text>
<text transform="translate(1014.15 1320.00) scale(1.0841 1)" fill="#2a2a2a" stroke="#2a2a2a" stroke-width="0.10"><tspan font-size="14.60">3</tspan></text>
<text transform="translate(1107.04 1320.00) scale(1.0841 1)" fill="#2a2a2a" stroke="#2a2a2a" stroke-width="0.10"><tspan font-size="14.60">6</tspan></text>
<text transform="translate(1198.10 1320.00) scale(1.0841 1)" fill="#2a2a2a" stroke="#2a2a2a" stroke-width="0.10"><tspan font-size="14.60">9</tspan></text>
<text transform="translate(1285.49 1320.00) scale(1.0841 1)" fill="#2a2a2a" stroke="#2a2a2a" stroke-width="0.10"><tspan font-size="14.60">12</tspan></text>
<text transform="translate(1376.93 1320.00) scale(1.0841 1)" fill="#2a2a2a" stroke="#2a2a2a" stroke-width="0.10"><tspan font-size="14.60">15</tspan></text>
<text transform="translate(1014.80 1345.00) scale(1.0636 1)" fill="#1c1c1c" stroke="#1c1c1c" stroke-width="0.30"><tspan font-size="20.60">Gate−source voltage V</tspan><tspan font-size="12.60" dy="4.20">GS</tspan><tspan font-size="20.60" dy="-4.20"> (V)</tspan></text>
<text transform="translate(863.00 1255.03) rotate(-90) scale(0.9899 1)" fill="#1c1c1c" stroke="#1c1c1c" stroke-width="0.30"><tspan font-size="22.00">On-Resistance  </tspan><tspan font-size="22.00" font-weight="700">R</tspan><tspan font-size="13.60" font-weight="700" dy="6.00">DS (on)</tspan><tspan font-size="22.00" dy="-6.00"> (mΩ)</tspan></text>
<g shape-rendering="crispEdges">
<rect x="360" y="1489" width="1" height="383" fill="#333"/>
<rect x="448" y="1489" width="1" height="383" fill="#333"/>
<rect x="538" y="1489" width="1" height="383" fill="#333"/>
<rect x="626" y="1489" width="1" height="383" fill="#333"/>
<rect x="272" y="1585" width="444" height="1" fill="#333"/>
<rect x="272" y="1680" width="444" height="1" fill="#333"/>
<rect x="272" y="1776" width="444" height="1" fill="#333"/>
<rect x="272" y="1489" width="444" height="383" fill="none" stroke="#111" stroke-width="2"/>
</g>
<path d="M280.30 1712.10L330.00 1711.90L360.40 1711.50L448.50 1710.10L538.00 1708.60L626.50 1705.70L715.80 1702.80" fill="none" stroke="#1c1c1c" stroke-width="2.00" stroke-linejoin="round"/>
<path d="M280.30 1727.80L300.00 1728.00L312.00 1728.90L474.00 1728.90L488.00 1727.20L500.00 1727.00L520.00 1727.60L560.00 1728.90L715.80 1728.90" fill="none" stroke="#1c1c1c" stroke-width="2.00" stroke-linejoin="round"/>
<text transform="translate(457.59 1703.00) scale(1.0694 1)" fill="#111"><tspan font-size="15.00" font-weight="700">V</tspan><tspan font-size="8.80" font-weight="700">GS</tspan><tspan font-size="15.00" font-weight="700">= 4.5V</tspan></text>
<text transform="translate(457.59 1751.10) scale(1.0671 1)" fill="#111"><tspan font-size="15.00" font-weight="700">V</tspan><tspan font-size="8.80" font-weight="700">GS</tspan><tspan font-size="15.00" font-weight="700">= 10V</tspan></text>
<text transform="translate(225.17 1495.93) scale(1.0791 1)" fill="#1c1c1c" stroke="#1c1c1c" stroke-width="0.30"><tspan font-size="16.00">200</tspan></text>
<text transform="translate(225.17 1591.03) scale(1.0791 1)" fill="#1c1c1c" stroke="#1c1c1c" stroke-width="0.30"><tspan font-size="16.00">150</tspan></text>
<text transform="translate(225.17 1686.03) scale(1.0791 1)" fill="#1c1c1c" stroke="#1c1c1c" stroke-width="0.30"><tspan font-size="16.00">100</tspan></text>
<text transform="translate(234.77 1782.03) scale(1.0791 1)" fill="#1c1c1c" stroke="#1c1c1c" stroke-width="0.30"><tspan font-size="16.00">50</tspan></text>
<text transform="translate(244.37 1877.73) scale(1.0791 1)" fill="#1c1c1c" stroke="#1c1c1c" stroke-width="0.30"><tspan font-size="16.00">0</tspan></text>
<text transform="translate(267.37 1903.50) scale(1.0803 1)" fill="#1c1c1c" stroke="#1c1c1c" stroke-width="0.30"><tspan font-size="15.40">0</tspan></text>
<text transform="translate(355.65 1903.50) scale(1.0803 1)" fill="#1c1c1c" stroke="#1c1c1c" stroke-width="0.30"><tspan font-size="15.40">1</tspan></text>
<text transform="translate(443.87 1903.50) scale(1.0803 1)" fill="#1c1c1c" stroke="#1c1c1c" stroke-width="0.30"><tspan font-size="15.40">2</tspan></text>
<text transform="translate(533.92 1903.50) scale(1.0803 1)" fill="#1c1c1c" stroke="#1c1c1c" stroke-width="0.30"><tspan font-size="15.40">3</tspan></text>
<text transform="translate(621.93 1903.50) scale(1.0803 1)" fill="#1c1c1c" stroke="#1c1c1c" stroke-width="0.30"><tspan font-size="15.40">4</tspan></text>
<text transform="translate(711.39 1903.50) scale(1.0803 1)" fill="#1c1c1c" stroke="#1c1c1c" stroke-width="0.30"><tspan font-size="15.40">5</tspan></text>
<text transform="translate(385.02 1938.70) scale(1.0600 1)" fill="#1c1c1c" stroke="#1c1c1c" stroke-width="0.30"><tspan font-size="21.60">Drain current I</tspan><tspan font-size="13.40">D</tspan><tspan font-size="21.60"> (A)</tspan></text>
<text transform="translate(213.90 1817.22) rotate(-90) scale(0.9830 1)" fill="#1c1c1c" stroke="#1c1c1c" stroke-width="0.30"><tspan font-size="22.00">On-Resistance  </tspan><tspan font-size="22.00" font-weight="700">R</tspan><tspan font-size="13.60" font-weight="700" dy="5.50">DS (on)</tspan><tspan font-size="22.00" dy="-5.50"> (mΩ)</tspan></text>
<g shape-rendering="crispEdges">
<rect x="988" y="1487" width="1" height="384" fill="#4a4a4a"/>
<rect x="1044" y="1487" width="1" height="384" fill="#4a4a4a"/>
<rect x="1100" y="1487" width="1" height="384" fill="#4a4a4a"/>
<rect x="1157" y="1487" width="1" height="384" fill="#4a4a4a"/>
<rect x="1213" y="1487" width="1" height="384" fill="#4a4a4a"/>
<rect x="1268" y="1487" width="1" height="384" fill="#4a4a4a"/>
<rect x="1324" y="1487" width="1" height="384" fill="#4a4a4a"/>
<rect x="932" y="1563" width="449" height="1" fill="#4a4a4a"/>
<rect x="932" y="1640" width="449" height="1" fill="#4a4a4a"/>
<rect x="932" y="1716" width="449" height="1" fill="#4a4a4a"/>
<rect x="932" y="1793" width="449" height="1" fill="#4a4a4a"/>
<rect x="932" y="1487" width="449" height="384" fill="none" stroke="#000" stroke-width="2"/>
</g>
<path d="M932.2 1762.3L935.2 1761.6L938.1 1761.0L941.1 1760.3L944.0 1759.6L947.0 1759.0L950.0 1758.3L952.9 1757.6L955.9 1756.9L958.8 1756.2L961.8 1755.5L964.7 1754.8L967.7 1754.1L970.6 1753.4L973.6 1752.7L976.5 1752.0L979.5 1751.3L982.4 1750.6L985.4 1749.8L988.3 1749.1L991.2 1748.4L994.2 1747.6L997.1 1746.9L1000.1 1746.1L1003.0 1745.4L1005.9 1744.6L1008.9 1743.9L1011.8 1743.1L1014.8 1742.4L1017.7 1741.6L1020.6 1740.8L1023.6 1740.0L1026.5 1739.2L1029.4 1738.4L1032.3 1737.6L1035.3 1736.8L1038.2 1736.0L1041.1 1735.2L1044.0 1734.4L1046.9 1733.5L1049.8 1732.7L1052.7 1731.8L1055.6 1730.9L1058.5 1730.0L1061.4 1729.1L1064.3 1728.2L1067.2 1727.3L1070.1 1726.4L1073.0 1725.4L1075.9 1724.5L1078.8 1723.6L1081.7 1722.7L1084.6 1721.8L1087.5 1720.8L1090.4 1719.9L1093.3 1719.0L1096.2 1718.2L1099.1 1717.3L1102.0 1716.4L1104.9 1715.6L1107.8 1714.8L1110.7 1714.0L1113.6 1713.2L1116.6 1712.3L1119.5 1711.6L1122.4 1710.8L1125.4 1710.0L1128.3 1709.2L1131.2 1708.4L1134.1 1707.6L1137.1 1706.8L1140.0 1706.0L1142.9 1705.2L1145.8 1704.4L1148.8 1703.6L1151.7 1702.7L1154.6 1701.9L1157.5 1701.0L1160.4 1700.2L1163.3 1699.3L1166.2 1698.5L1169.1 1697.6L1172.0 1696.7L1174.9 1695.8L1177.8 1694.9L1180.7 1694.0L1183.6 1693.2L1186.5 1692.2L1189.4 1691.3L1192.3 1690.4L1195.2 1689.5L1198.1 1688.6L1201.0 1687.6L1203.9 1686.7L1206.7 1685.7L1209.6 1684.7L1212.5 1683.7L1215.3 1682.7L1218.2 1681.7L1221.1 1680.7L1223.9 1679.7L1226.7 1678.6L1229.6 1677.6L1232.4 1676.5L1235.3 1675.4L1238.1 1674.3L1240.9 1673.2L1243.7 1672.1L1246.6 1671.0L1249.4 1669.9L1252.2 1668.8L1255.0 1667.7L1257.9 1666.6L1260.7 1665.5L1263.5 1664.4L1266.3 1663.2L1269.2 1662.1L1272.0 1661.0L1274.8 1659.9L1277.6 1658.8L1280.5 1657.7L1283.3 1656.6L1286.1 1655.5L1288.9 1654.4L1291.8 1653.3L1294.6 1652.2L1297.4 1651.1L1300.2 1649.9L1303.0 1648.8L1305.9 1647.7L1308.7 1646.6L1311.5 1645.4L1314.3 1644.3L1317.1 1643.1L1319.9 1642.0L1322.7 1640.8L1325.5 1639.7L1328.3 1638.5L1331.1 1637.3L1333.9 1636.2L1336.7 1635.0L1339.5 1633.8L1342.3 1632.6L1345.1 1631.4L1347.9 1630.2L1350.7 1629.0L1353.4 1627.8L1356.2 1626.6L1359.0 1625.4L1361.8 1624.2L1364.6 1623.0L1367.3 1621.8L1370.1 1620.5L1372.9 1619.3L1375.7 1618.1L1378.4 1616.8L1381.2 1615.6" fill="none" stroke="#1c1c1c" stroke-width="2.20" stroke-linejoin="round"/>
<text transform="translate(1122.10 1691.00) scale(0.9895 1)" fill="#111"><tspan font-size="15.00" font-weight="700">V</tspan><tspan font-size="8.80" font-weight="700">GS</tspan><tspan font-size="15.00" font-weight="700"> = 10V</tspan></text>
<text transform="translate(886.65 1493.11) scale(1.0861 1)" fill="#1c1c1c" stroke="#1c1c1c" stroke-width="0.30"><tspan font-size="15.40">2.5</tspan></text>
<text transform="translate(886.60 1569.61) scale(1.0861 1)" fill="#1c1c1c" stroke="#1c1c1c" stroke-width="0.30"><tspan font-size="15.40">2.0</tspan></text>
<text transform="translate(886.65 1646.61) scale(1.0861 1)" fill="#1c1c1c" stroke="#1c1c1c" stroke-width="0.30"><tspan font-size="15.40">1.5</tspan></text>
<text transform="translate(886.60 1722.61) scale(1.0861 1)" fill="#1c1c1c" stroke="#1c1c1c" stroke-width="0.30"><tspan font-size="15.40">1.0</tspan></text>
<text transform="translate(886.65 1799.61) scale(1.0861 1)" fill="#1c1c1c" stroke="#1c1c1c" stroke-width="0.30"><tspan font-size="15.40">0.5</tspan></text>
<text transform="translate(886.60 1877.11) scale(1.0861 1)" fill="#1c1c1c" stroke="#1c1c1c" stroke-width="0.30"><tspan font-size="15.40">0.0</tspan></text>
<text transform="translate(918.34 1902.80) scale(1.0978 1)" fill="#1c1c1c" stroke="#1c1c1c" stroke-width="0.30"><tspan font-size="15.40">-50</tspan></text>
<text transform="translate(974.86 1902.80) scale(1.0978 1)" fill="#1c1c1c" stroke="#1c1c1c" stroke-width="0.30"><tspan font-size="15.40">-25</tspan></text>
<text transform="translate(1038.40 1902.80) scale(1.0978 1)" fill="#1c1c1c" stroke="#1c1c1c" stroke-width="0.30"><tspan font-size="15.40">0</tspan></text>
<text transform="translate(1089.63 1902.80) scale(1.0978 1)" fill="#1c1c1c" stroke="#1c1c1c" stroke-width="0.30"><tspan font-size="15.40">25</tspan></text>
<text transform="translate(1146.69 1902.80) scale(1.0978 1)" fill="#1c1c1c" stroke="#1c1c1c" stroke-width="0.30"><tspan font-size="15.40">50</tspan></text>
<text transform="translate(1202.62 1902.80) scale(1.0978 1)" fill="#1c1c1c" stroke="#1c1c1c" stroke-width="0.30"><tspan font-size="15.40">75</tspan></text>
<text transform="translate(1252.68 1902.80) scale(1.0978 1)" fill="#1c1c1c" stroke="#1c1c1c" stroke-width="0.30"><tspan font-size="15.40">100</tspan></text>
<text transform="translate(1308.71 1902.80) scale(1.0978 1)" fill="#1c1c1c" stroke="#1c1c1c" stroke-width="0.30"><tspan font-size="15.40">125</tspan></text>
<text transform="translate(1365.18 1902.80) scale(1.0978 1)" fill="#1c1c1c" stroke="#1c1c1c" stroke-width="0.30"><tspan font-size="15.40">150</tspan></text>
<text transform="translate(1055.99 1935.80) scale(1.0589 1)" fill="#1c1c1c" stroke="#1c1c1c" stroke-width="0.30"><tspan font-size="21.60">Temperature T</tspan><tspan font-size="12.60" dy="4.20">J</tspan><tspan font-size="21.60" dy="-4.20">(°C)</tspan></text>
<text transform="translate(862.80 1779.72) rotate(-90) scale(1.0070 1)" fill="#1c1c1c" stroke="#1c1c1c" stroke-width="0.30"><tspan font-size="22.00">Normalized R</tspan><tspan font-size="13.60" dy="6.00">DS (on)</tspan></text>
</svg>
</body></html>
